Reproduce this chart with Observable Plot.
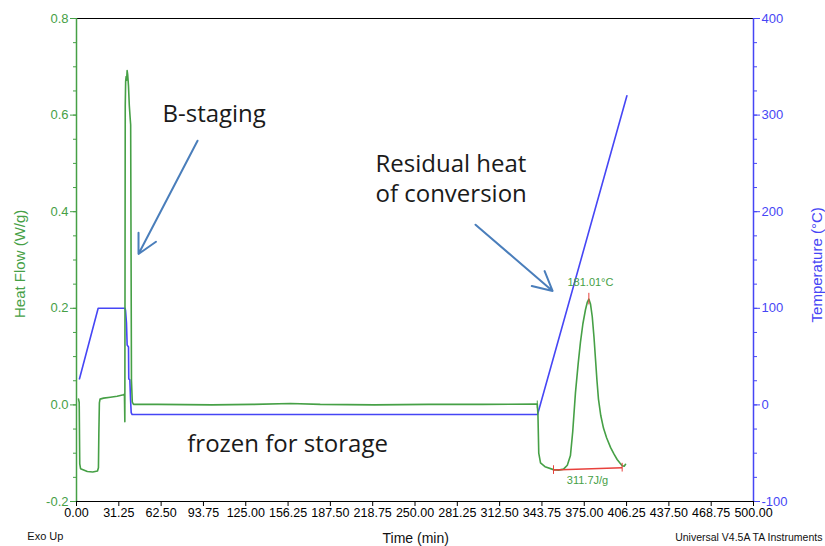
<!DOCTYPE html>
<html><head><meta charset="utf-8">
<script src="https://cdn.jsdelivr.net/npm/d3@7"></script>
<script src="https://cdn.jsdelivr.net/npm/@observablehq/plot@0.6"></script>
<style>body{margin:0;background:#fff}#chart svg{display:block}</style>
</head><body><div id="chart"></div>
<script>
// Heat flow (W/g) vs time (min)
const heatTime = [1.5, 2.0, 2.4, 3.0, 8, 12, 15.5, 16.2, 16.5, 16.9, 17.4, 20, 25, 30, 34.7, 35.4, 35.7, 36.0, 36.3, 36.7, 37.0, 37.4, 37.8, 38.4, 39.0, 39.6, 40.0, 40.6, 41.2, 42.1, 60, 100, 130, 158, 180, 220, 260, 300, 340.3, 340.8, 341.4, 342.7, 346, 352.3, 356, 359.7, 362.5, 364.8, 366.5, 368.5, 370.5, 372.2, 374, 375.9, 377.3, 378.4, 379.6, 380.9, 382.2, 383.3, 384.4, 385.5, 387.2, 389.2, 391.5, 394.4, 397, 399.3, 401.5, 403, 404.5, 405.5];
const heatFlow = [0.012, 0.005, -0.122, -0.132, -0.138, -0.139, -0.137, -0.13, -0.06, 0.004, 0.012, 0.014, 0.016, 0.018, 0.021, 0.022, -0.035, 0.62, 0.67, 0.68, 0.672, 0.692, 0.684, 0.66, 0.62, 0.595, 0.58, 0.05, 0.006, 0.001, 0.001, 0.0, 0.001, 0.003, 0.001, 0.0, 0.001, 0.001, 0.002, -0.02, -0.1, -0.12, -0.128, -0.134, -0.135, -0.133, -0.125, -0.105, -0.055, 0.025, 0.085, 0.13, 0.168, 0.197, 0.213, 0.219, 0.209, 0.183, 0.14, 0.095, 0.05, 0.012, -0.022, -0.048, -0.068, -0.088, -0.102, -0.113, -0.121, -0.126, -0.127, -0.123];

// Temperature (°C) vs time (min)
const tempTime = [2.2, 16.0, 35.8, 36.2, 36.9, 37.4, 38.4, 38.6, 39.4, 39.9, 40.4, 41.1, 340.5, 406.5];
const tempC = [27, 100, 100, 98, 85, 62, 60, 27, 26, 6, -8, -10, -10, 320];

// Axis ticks
const xTicks = d3.range(0, 500.001, 31.25);
const hfTicks = [-0.2, 0, 0.2, 0.4, 0.6, 0.8];
const hfMinor = d3.range(-0.2, 0.8001, 0.05);
const tempTicks = [-100, 0, 100, 200, 300, 400];
const tempMinor = d3.range(-100, 400.1, 25);

// Axis titles and footer texts (positions in data units)
const titles = [
  {text: "Heat Flow (W/g)", t: -41.4, v: 0.292, rotate: -90, size: 15, color: "green"},
  {text: "Temperature (°C)", t: 547.3, v: 0.29, rotate: -90, size: 15, color: "blue"},
  {text: "Time (min)", t: 250.5, v: -0.276, rotate: 0, size: 14, color: "ink"},
  {text: "Exo Up", t: -23, v: -0.272, rotate: 0, size: 11, color: "ink"},
  {text: "Universal V4.5A TA Instruments", t: 496.5, v: -0.274, rotate: 0, size: 10.5, color: "ink"}
];

// Annotations (data units)
const notes = [
  {text: "B-staging", t: 63.5, v: 0.605},
  {text: "Residual heat\nof conversion", t: 220.8, v: 0.4705},
  {text: "frozen for storage", t: 81.8, v: -0.078}
];
const arrows = [
  {t1: 89.4, v1: 0.547, t2: 45.8, v2: 0.3125},
  {t1: 294.7, v1: 0.373, t2: 351.6, v2: 0.236}
];
const peak = {t: 378.4, v: 0.219, label: "181.01°C"};
const baseline = [{t: 352.3, v: -0.135}, {t: 403, v: -0.13}];
const area = {label: "311.7J/g", t: 377.4, v: -0.157};
const markTimes = [340.3];

const palette = {green: "#46a046", blue: "#4646f5", ink: "#111111"};
const arrowColor = "#4a7ebb", red = "#e8413c";
const toHF = c => (c + 100) / 500 - 0.2;
const fromHF = h => Math.round((h + 0.2) * 500 - 100);

const heat = heatTime.map((t, i) => ({t, v: heatFlow[i]}));
const temp = tempTime.map((t, i) => ({t, c: tempC[i]}));

const titleMarks = titles.map(d => Plot.text([d], {
  x: "t", y: "v", text: "text", rotate: d.rotate, fontSize: d.size,
  fill: palette[d.color], textAnchor: "middle", lineAnchor: "middle"
}));

const chart = Plot.plot({
  width: 825, height: 546,
  marginLeft: 76, marginRight: 72, marginTop: 18, marginBottom: 45,
  x: {domain: [0, 500]},
  y: {domain: [-0.2, 0.8]},
  style: {fontFamily: "'Liberation Sans', Arial, sans-serif", background: "white"},
  marks: [
    Plot.ruleY([0.8], {stroke: "black"}),
    Plot.ruleY([-0.2], {stroke: "black"}),
    Plot.ruleX([0], {stroke: palette.green, strokeWidth: 1.5}),
    Plot.ruleX([500], {stroke: palette.blue, strokeWidth: 1.5}),
    Plot.axisX({ticks: xTicks, tickFormat: d => d.toFixed(2), tickSize: 5, tickPadding: 2, fontSize: 12.5, label: null}),
    Plot.axisY({anchor: "left", ticks: hfMinor, tickSize: 3, tickFormat: () => "", color: palette.green, label: null}),
    Plot.axisY({anchor: "left", ticks: hfTicks, tickSize: 6, tickPadding: 2, tickFormat: d => d.toFixed(1), color: palette.green, fontSize: 13, label: null}),
    Plot.axisY({anchor: "right", ticks: tempMinor.map(toHF), tickSize: 3, tickFormat: () => "", color: palette.blue, label: null}),
    Plot.axisY({anchor: "right", ticks: tempTicks.map(toHF), tickSize: 6, tickPadding: 2, tickFormat: d => String(fromHF(d)), color: palette.blue, fontSize: 13, label: null}),
    ...titleMarks,
    Plot.line(temp, {x: "t", y: d => toHF(d.c), stroke: palette.blue, strokeWidth: 1.6}),
    Plot.line(heat, {x: "t", y: "v", stroke: palette.green, strokeWidth: 1.6}),
    Plot.ruleX(markTimes, {y1: -0.008, y2: 0.008, stroke: palette.green}),
    Plot.link([baseline], {x1: d => d[0].t, y1: d => d[0].v, x2: d => d[1].t, y2: d => d[1].v, stroke: red, strokeWidth: 1.5}),
    Plot.ruleX(baseline, {x: "t", y1: d => d.v - 0.009, y2: d => d.v + 0.009, stroke: red}),
    Plot.ruleX([peak], {x: "t", y1: peak.v - 0.012, y2: peak.v + 0.012, stroke: red}),
    Plot.text([peak], {x: d => d.t + 1.2, y: d => d.v + 0.034, text: "label", fill: palette.green, fontSize: 11}),
    Plot.text([area], {x: "t", y: "v", text: "label", fill: palette.green, fontSize: 11}),
    Plot.arrow(arrows, {x1: "t1", y1: "v1", x2: "t2", y2: "v2", stroke: arrowColor, strokeWidth: 2, headLength: 16, headAngle: 55}),
    Plot.text(notes, {x: "t", y: "v", text: "text", textAnchor: "start", lineHeight: 1.24, fontSize: 24, fontFamily: "'Open Sans', sans-serif", fill: "#1a1a1a"})
  ]
});
document.getElementById("chart").appendChild(chart);
</script>
</body></html>
